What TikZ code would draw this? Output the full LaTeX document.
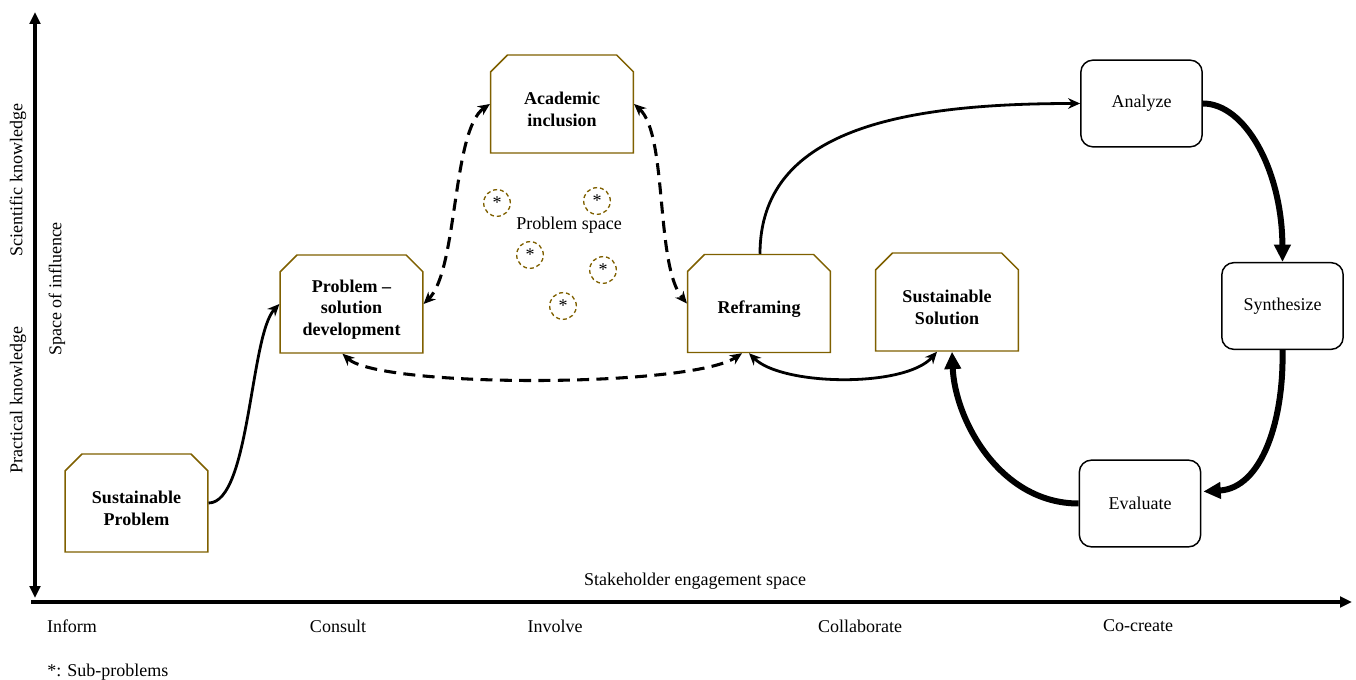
\documentclass[tikz,border=0pt]{standalone}
\usepackage{fontspec}
\setmainfont{Liberation Serif}
\usetikzlibrary{arrows.meta,shapes.misc,calc}
\definecolor{boxbrown}{RGB}{127,96,0}
% invisible strut that sets the first text line of a stage box a little lower
\newcommand{\stagelift}{\rule{0pt}{17.5pt}}

\begin{document}
\begin{tikzpicture}[x=0.75pt,y=-0.75pt,
  font=\fontsize{13.5}{16}\selectfont,
  stage/.style={chamfered rectangle,
    chamfered rectangle corners={north west,north east},
    chamfered rectangle sep=6.3pt,
    draw=boxbrown, line width=1.1pt, fill=white,
    minimum width=107pt, minimum height=73.5pt,
    inner sep=2pt, align=center,
    font=\fontsize{13.5}{16}\selectfont\bfseries},
  cycbox/.style={draw, rounded corners=9pt, line width=1.1pt,
    minimum width=91pt, minimum height=65pt, inner sep=2pt},
  subp/.style={circle, draw=boxbrown, dash pattern=on 3pt off 2.2pt,
    line width=1pt, minimum size=20pt, inner sep=0pt},
  label/.style={inner sep=0pt},
  axis/.style={line width=3pt},
  tipS/.tip={Stealth[length=9pt,width=8pt]},
  tipB/.tip={Triangle[length=13pt,width=12pt]},
  tipA/.tip={Triangle[length=9pt,width=8pt]},
  flow/.style={line width=2.1pt},
  dflow/.style={line width=2.3pt, dash pattern=on 9pt off 5.5pt},
  heavy/.style={line width=4.5pt}
]
\useasboundingbox (0,0) rectangle (1356,680);

% axes
\coordinate (ytop) at (35,12);
\coordinate (ybot) at (35,598);
\coordinate (xl) at (31,602);
\coordinate (xr) at (1352,602);
\draw[axis, tipA-tipA] (ytop) -- (ybot);
\draw[axis, -tipA] (xl) -- (xr);

% axis labels
\node[label, rotate=90] (sci) at (18,180) {Scientific knowledge};
\node[label, rotate=90] (prac) at (18,400) {Practical knowledge};
\node[label, rotate=90] (infl) at (57,289) {Space of influence};
\node[label] (stake) at (695,581) {Stakeholder engagement space};
\node[label] (inform) at (72,626) {Inform};
\node[label] (consult) at (338,626) {Consult};
\node[label] (involve) at (555,626) {Involve};
\node[label] (collab) at (860,626) {Collaborate};
\node[label] (cocreate) at (1138,626) {Co-create};
\node[label, anchor=west] (legend) at (47,672) {*: Sub-problems};

% stages
\node[stage] (SP) at (136.5,503) {\stagelift Sustainable\\Problem};
\node[stage] (PSD) at (351.5,304) {\stagelift Problem --\\solution\\development};
\node[stage] (AI) at (562,104) {\stagelift Academic\\inclusion};
\node[stage] (RF) at (759,303.5) {\stagelift Reframing};
\node[stage] (SS) at (947,302) {\stagelift Sustainable\\Solution};

% design cycle
\node[cycbox] (AN) at (1141.5,103.5) {Analyze};
\node[cycbox] (SY) at (1282.5,306) {Synthesize};
\node[cycbox] (EV) at (1140,503.5) {Evaluate};

% problem space with sub-problems
\node[label] (pspace) at (569,225) {Problem space};
\node[subp] (s1) at (497,203) {\raisebox{-0.35ex}{*}};
\node[subp] (s2) at (597,201) {\raisebox{-0.35ex}{*}};
\node[subp] (s3) at (530,255) {\raisebox{-0.35ex}{*}};
\node[subp] (s4) at (603,270) {\raisebox{-0.35ex}{*}};
\node[subp] (s5) at (563,306) {\raisebox{-0.35ex}{*}};

% connectors
\draw[flow, -tipS] (SP.east) .. controls (250,503) and (250,335) .. (PSD.west);
\draw[dflow, tipS-tipS] (AI.west) .. controls (452,130) and (458,270) .. (PSD.east);
\draw[dflow, tipS-tipS] (AI.east) .. controls (668,135) and (655,265) .. (RF.west);
\draw[dflow, tipS-tipS] ($(PSD.south)+(-9,0)$) .. controls (380,388) and (690,388) .. ($(RF.south)+(-17,0)$);
\draw[flow, tipS-tipS] ($(RF.south)+(-10,0)$) .. controls (782,386) and (905,388) .. ($(SS.south)+(-10,0)$);
\draw[flow, -tipS] ($(RF.north)+(1,0)$) .. controls (760,130) and (900,103.5) .. (AN.west);
\draw[heavy, -tipB] (AN.east) .. controls (1245,103.5) and (1282,170) .. (SY.north);
\draw[heavy, -tipB] (SY.south) .. controls (1284,420) and (1262,488) .. ($(EV.east)+(2,-12)$);
\draw[heavy, -tipB] (EV.west) .. controls (1000,503.5) and (955,420) .. ($(SS.south)+(5,0)$);
\end{tikzpicture}
\end{document}
